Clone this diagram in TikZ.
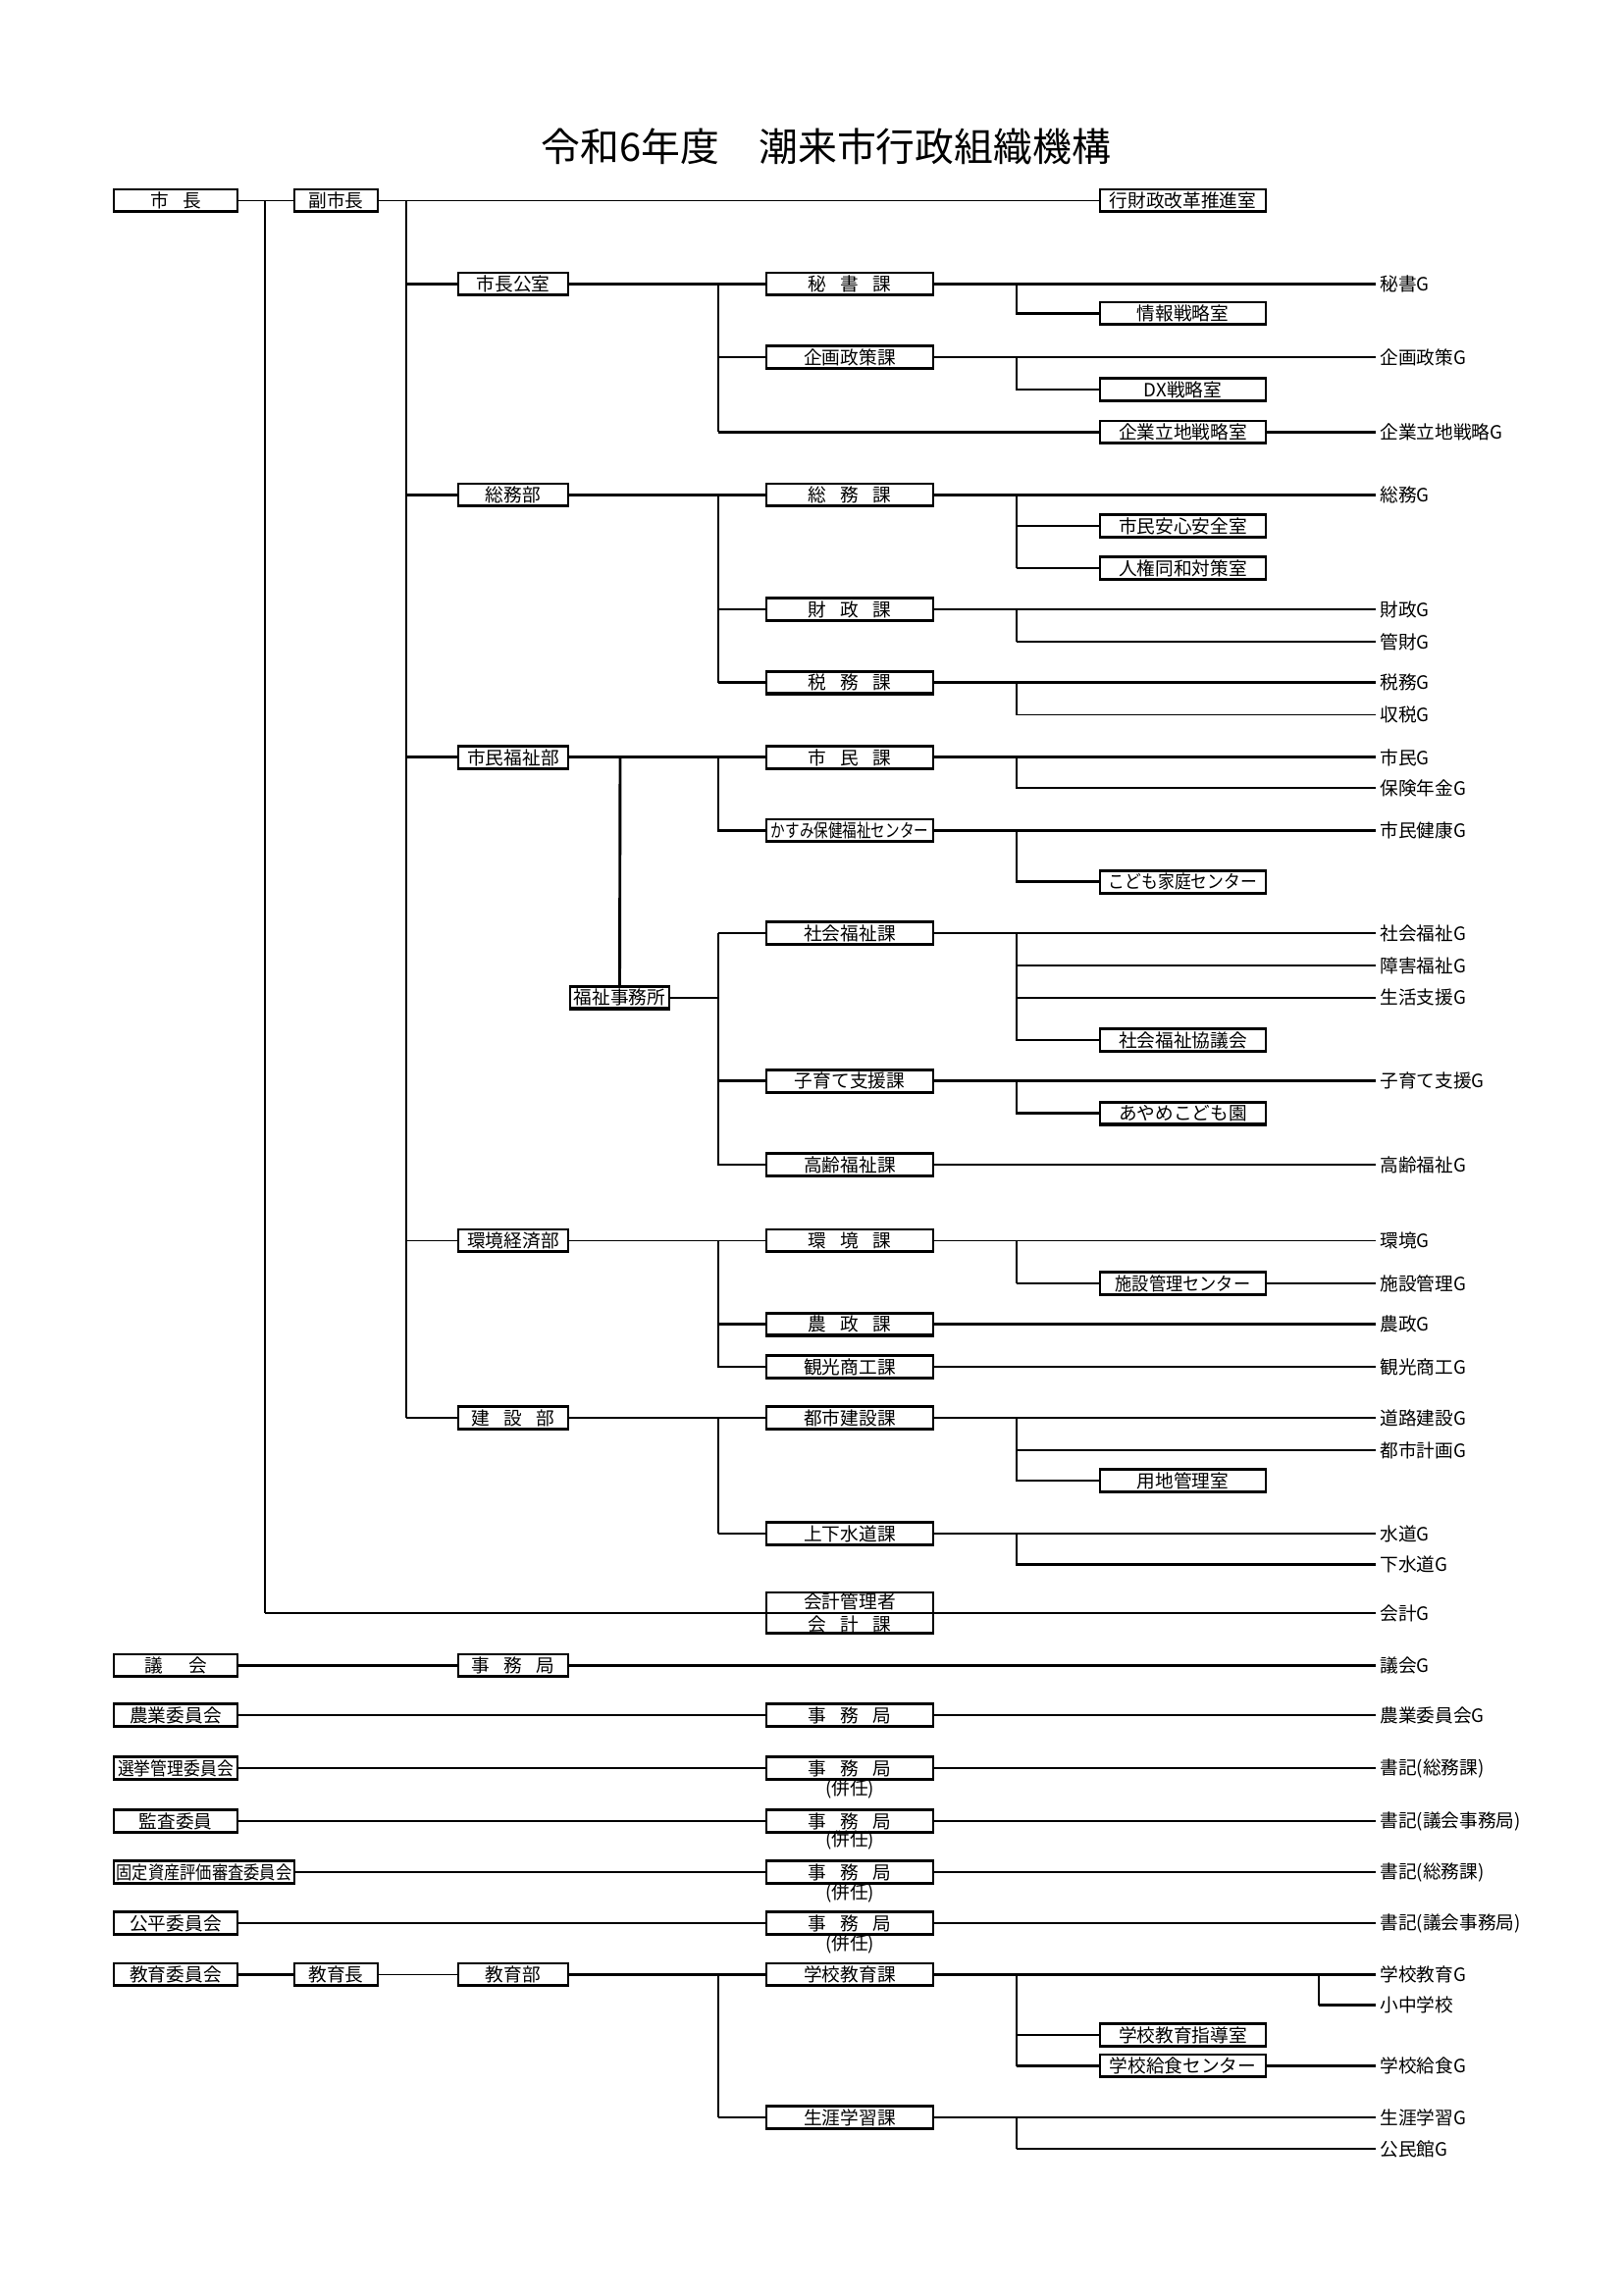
\documentclass[tikz,border=0pt]{standalone}
\usepackage{fontspec}
\setmainfont{Noto Sans CJK JP}
\newcommand\bxf{\fontsize{6.75pt}{7.2pt}\selectfont}
\newcommand\gp{\hspace{0.75em}}
\newcommand\sqz[2]{\scalebox{#1}[1]{#2}}
\begin{document}
\begin{tikzpicture}[x=0.127mm,y=-0.127mm,
  bx/.style={draw, line width=0.95pt, inner sep=0pt, minimum height=2.92mm, font=\bxf, fill=white,
     path picture={\draw[line width=1.3pt] (path picture bounding box.south west) -- (path picture bounding box.south east);}},
  bL/.style={bx, minimum width=16.0mm},
  bS/.style={bx, minimum width=21.59mm},
  bD/.style={bx, minimum width=14.22mm},
  bO/.style={bx, minimum width=21.46mm},
  bV/.style={bx, minimum width=10.8mm},
  glab/.style={anchor=west, inner sep=0.5mm, font=\bxf},
  plain/.style={inner sep=0pt, font=\bxf},
  thk/.style={line width=1.05pt},
  thn/.style={line width=0.6pt},
  med/.style={line width=0.8pt}]
\useasboundingbox (0,0) rectangle (1654,2338);

% title
\node[inner sep=0pt, font=\fontsize{14.4pt}{16pt}\selectfont] (title) at (842,149) {令和6年度　潮来市行政組織機構};

% helper coordinates for vertical trunks
\coordinate (X270) at (270,0);
\coordinate (X414) at (414,0);
\coordinate (X632) at (632,0);
\coordinate (X732) at (732,0);
\coordinate (X1036) at (1036,0);
\coordinate (X1344) at (1344,0);

% left column
\node[bL] (mayor) at (179,204.5) {市\gp 長};
\node[bL] (gikai) at (179,1697.5) {議\hspace{1.4em}会};
\node[bL] (nougyou) at (179,1748) {農業委員会};
\node[bL] (senkyo) at (179,1802) {\sqz{0.9}{選挙管理委員会}};
\node[bL] (kansa) at (179,1856) {監査委員};
\node[bx, minimum width=23.37mm] (kotei) at (208,1908) {\sqz{0.87}{固定資産評価審査委員会}};
\node[bL] (kouhei) at (179,1960) {公平委員会};
\node[bL] (kyoiI) at (179,2012.6) {教育委員会};

% second column
\node[bV] (vmayor) at (342.5,204.5) {副市長};
\node[bV] (kyoikuchou) at (342.5,2012.6) {教育長};

% departments
\node[bD] (koushitsu) at (523,289.6) {市長公室};
\node[bD] (soumubu) at (523,504.6) {総務部};
\node[bD] (shiminbu) at (523,771.9) {市民福祉部};
\node[bD] (kankyobu) at (523,1264.6) {環境経済部};
\node[bD] (kensetsu) at (523,1445) {建\gp 設\gp 部};
\node[bD] (gjimu) at (523,1697.5) {事\gp 務\gp 局};
\node[bD] (kyoikubu) at (523,2012.6) {教育部};
\node[bx, minimum width=12.83mm] (fukushi) at (631.5,1016.7) {福祉事務所};

% sections
\node[bS] (hisho) at (866,289.6) {秘\gp 書\gp 課};
\node[bS] (kikaku) at (866,364.3) {企画政策課};
\node[bS] (soumuka) at (866,504.6) {総\gp 務\gp 課};
\node[bS] (zaisei) at (866,621) {財\gp 政\gp 課};
\node[bS] (zeimu) at (866,695.7) {税\gp 務\gp 課};
\node[bS] (shiminka) at (866,771.9) {市\gp 民\gp 課};
\node[bS] (kasumi) at (866,846.5) {\sqz{0.78}{かすみ保健福祉センター}};
\node[bS] (shakai) at (866,951) {社会福祉課};
\node[bS] (kosodate) at (866,1101.8) {子育て支援課};
\node[bS] (kourei) at (866,1187) {高齢福祉課};
\node[bS] (kankyoka) at (866,1264.6) {環\gp 境\gp 課};
\node[bS] (nousei) at (866,1349.7) {農\gp 政\gp 課};
\node[bS] (kankou) at (866,1393) {観光商工課};
\node[bS] (toshi) at (866,1445) {都市建設課};
\node[bS] (jouge) at (866,1563) {上下水道課};
\node[bS, minimum height=5.33mm, align=center, fill=none] (kaikei) at (866,1644) {会計管理者\\[0.3mm]会\gp 計\gp 課};
\node[bS] (j1) at (866,1748) {事\gp 務\gp 局};
\node[bS] (j2) at (866,1802) {事\gp 務\gp 局};
\node[bS] (j3) at (866,1856) {事\gp 務\gp 局};
\node[bS] (j4) at (866,1908) {事\gp 務\gp 局};
\node[bS] (j5) at (866,1960) {事\gp 務\gp 局};
\node[bS] (gakko) at (866,2012.6) {学校教育課};
\node[bS] (shogai) at (866,2158) {生涯学習課};

\node[plain] (ken2) at (866,1823) {(併任)};
\node[plain] (ken3) at (866,1875) {(併任)};
\node[plain] (ken4) at (866,1929.5) {(併任)};
\node[plain] (ken5) at (866,1981) {(併任)};

% offices
\node[bO] (gyozai) at (1205.5,204.5) {行財政改革推進室};
\node[bO] (jouhou) at (1205.5,319.5) {情報戦略室};
\node[bO] (dx) at (1205.5,397) {DX戦略室};
\node[bO] (kigyo) at (1205.5,440.4) {企業立地戦略室};
\node[bO] (anshin) at (1205.5,536) {市民安心安全室};
\node[bO] (jinken) at (1205.5,579.3) {人権同和対策室};
\node[bO] (kodomo) at (1205.5,898.8) {\sqz{0.9}{こども家庭センター}};
\node[bO] (kyougi) at (1205.5,1060) {社会福祉協議会};
\node[bO] (ayame) at (1205.5,1134.7) {あやめこども園};
\node[bO] (shisetsu) at (1205.5,1308) {\sqz{0.92}{施設管理センター}};
\node[bO] (youchi) at (1205.5,1509) {用地管理室};
\node[bO] (shidou) at (1205.5,2074) {学校教育指導室};
\node[bO] (kyushoku) at (1205.5,2105.5) {学校給食センター};

% group labels
\node[glab] (hishoG) at (1402,289.6) {秘書G};
\node[glab] (kikakuG) at (1402,364.3) {企画政策G};
\node[glab] (kigyoG) at (1402,440.4) {企業立地戦略G};
\node[glab] (soumuG) at (1402,504.6) {総務G};
\node[glab] (zaiseiG) at (1402,621) {財政G};
\node[glab] (kanzaiG) at (1402,654) {管財G};
\node[glab] (zeimuG) at (1402,695.7) {税務G};
\node[glab] (shuzeiG) at (1402,728.6) {収税G};
\node[glab] (shiminG) at (1402,771.9) {市民G};
\node[glab] (hokenG) at (1402,803) {保険年金G};
\node[glab] (kenkouG) at (1402,846.5) {市民健康G};
\node[glab] (shakaiG) at (1402,951) {社会福祉G};
\node[glab] (shougaiG) at (1402,984) {障害福祉G};
\node[glab] (seikatsuG) at (1402,1016.7) {生活支援G};
\node[glab] (kosodateG) at (1402,1101.8) {子育て支援G};
\node[glab] (koureiG) at (1402,1187) {高齢福祉G};
\node[glab] (kankyoG) at (1402,1264.6) {環境G};
\node[glab] (shisetsuG) at (1402,1308) {施設管理G};
\node[glab] (nouseiG) at (1402,1349.7) {農政G};
\node[glab] (kankouG) at (1402,1393) {観光商工G};
\node[glab] (douroG) at (1402,1445) {道路建設G};
\node[glab] (tkeikakuG) at (1402,1478) {都市計画G};
\node[glab] (suidouG) at (1402,1563) {水道G};
\node[glab] (gesuiG) at (1402,1594.5) {下水道G};
\node[glab] (kaikeiG) at (1402,1644) {会計G};
\node[glab] (gikaiG) at (1402,1697.5) {議会G};
\node[glab] (nougyouG) at (1402,1748) {農業委員会G};
\node[glab] (shokiA) at (1402,1802) {書記(総務課)};
\node[glab] (shokiB) at (1402,1856) {書記(議会事務局)};
\node[glab] (shokiC) at (1402,1908) {書記(総務課)};
\node[glab] (shokiD) at (1402,1960) {書記(議会事務局)};
\node[glab] (gakkoG) at (1402,2012.6) {学校教育G};
\node[glab] (shochu) at (1402,2043.5) {小中学校};
\node[glab] (kyushokuG) at (1402,2105.5) {学校給食G};
\node[glab] (shogaiG) at (1402,2158) {生涯学習G};
\node[glab] (kouminG) at (1402,2190) {公民館G};

% ---- connectors ----
% top level
\draw[thn] (mayor.east) -- (vmayor.west);
\draw[med] (X270 |- mayor.east) -- (X270 |- kaikei.center);
\draw[thk] (X270 |- kaikei.center) -- (kaikeiG.west);
\draw[thn] (vmayor.east) -- (gyozai.west);
\draw[med] (X414 |- vmayor.east) -- (X414 |- kensetsu.west);

% 市長公室
\draw[thk] (X414 |- koushitsu.west) -- (koushitsu.west);
\draw[thk] (koushitsu.east) -- (hisho.west);
\draw[thn] (X732 |- hisho.west) -- (X732 |- kigyo.west);
\draw[thn] (X732 |- kikaku.west) -- (kikaku.west);
\draw[thk] (X732 |- kigyo.west) -- (kigyo.west);
\draw[thk] (hisho.east) -- (hishoG.west);
\draw[thk] (X1036 |- hisho.east) -- (X1036 |- jouhou.west) -- (jouhou.west);
\draw[thn] (kikaku.east) -- (kikakuG.west);
\draw[thk] (X1036 |- kikaku.east) -- (X1036 |- dx.west) -- (dx.west);
\draw[thk] (kigyo.east) -- (kigyoG.west);

% 総務部
\draw[thk] (X414 |- soumubu.west) -- (soumubu.west);
\draw[thk] (soumubu.east) -- (soumuka.west);
\draw[thn] (X732 |- soumuka.west) -- (X732 |- zeimu.west);
\draw[thk] (X732 |- zaisei.west) -- (zaisei.west);
\draw[thk] (X732 |- zeimu.west) -- (zeimu.west);
\draw[thk] (soumuka.east) -- (soumuG.west);
\draw[thk] (X1036 |- soumuka.east) -- (X1036 |- jinken.west);
\draw[thk] (X1036 |- anshin.west) -- (anshin.west);
\draw[thn] (X1036 |- jinken.west) -- (jinken.west);
\draw[thk] (zaisei.east) -- (zaiseiG.west);
\draw[thn] (X1036 |- zaisei.east) -- (X1036 |- kanzaiG.west);
\draw[thk] (X1036 |- kanzaiG.west) -- (kanzaiG.west);
\draw[thk] (zeimu.east) -- (zeimuG.west);
\draw[thn] (X1036 |- zeimu.east) -- (X1036 |- shuzeiG.west) -- (shuzeiG.west);

% 市民福祉部
\draw[thk] (X414 |- shiminbu.west) -- (shiminbu.west);
\draw[thk] (shiminbu.east) -- (shiminka.west);
\draw[thk] (X632 |- shiminbu.east) -- (fukushi.north);
\draw[thk] (X732 |- shiminka.west) -- (X732 |- kasumi.west) -- (kasumi.west);
\draw[thn] (fukushi.east) -- (X732 |- fukushi.east);
\draw[thk] (X732 |- shakai.west) -- (X732 |- kourei.west) -- (kourei.west);
\draw[thn] (X732 |- shakai.west) -- (shakai.west);
\draw[thk] (X732 |- kosodate.west) -- (kosodate.west);
\draw[thk] (shiminka.east) -- (shiminG.west);
\draw[thk] (X1036 |- shiminka.east) -- (X1036 |- hokenG.west) -- (hokenG.west);
\draw[thk] (kasumi.east) -- (kenkouG.west);
\draw[thk] (X1036 |- kasumi.east) -- (X1036 |- kodomo.west) -- (kodomo.west);
\draw[thn] (shakai.east) -- (shakaiG.west);
\draw[thk] (X1036 |- shakai.east) -- (X1036 |- kyougi.west) -- (kyougi.west);
\draw[thn] (X1036 |- shougaiG.west) -- (shougaiG.west);
\draw[thn] (X1036 |- seikatsuG.west) -- (seikatsuG.west);
\draw[thk] (kosodate.east) -- (kosodateG.west);
\draw[thk] (X1036 |- kosodate.east) -- (X1036 |- ayame.west) -- (ayame.west);
\draw[thk] (kourei.east) -- (koureiG.west);

% 環境経済部
\draw[thn] (X414 |- kankyobu.west) -- (kankyobu.west);
\draw[thn] (kankyobu.east) -- (kankyoka.west);
\draw[thn] (X732 |- kankyoka.west) -- (X732 |- kankou.west) -- (kankou.west);
\draw[thk] (X732 |- nousei.west) -- (nousei.west);
\draw[thn] (kankyoka.east) -- (kankyoG.west);
\draw[thn] (X1036 |- kankyoka.east) -- (X1036 |- shisetsu.west);
\draw[thk] (X1036 |- shisetsu.west) -- (shisetsu.west);
\draw[thk] (shisetsu.east) -- (shisetsuG.west);
\draw[thk] (nousei.east) -- (nouseiG.west);
\draw[thn] (kankou.east) -- (kankouG.west);

% 建設部
\draw[thk] (X414 |- kensetsu.west) -- (kensetsu.west);
\draw[thk] (kensetsu.east) -- (toshi.west);
\draw[thn] (X732 |- toshi.west) -- (X732 |- jouge.west);
\draw[thk] (X732 |- jouge.west) -- (jouge.west);
\draw[thk] (toshi.east) -- (douroG.west);
\draw[thn] (X1036 |- toshi.east) -- (X1036 |- youchi.west) -- (youchi.west);
\draw[thk] (X1036 |- tkeikakuG.west) -- (tkeikakuG.west);
\draw[thk] (jouge.east) -- (suidouG.west);
\draw[thk] (X1036 |- jouge.east) -- (X1036 |- gesuiG.west) -- (gesuiG.west);

% committees
\draw[thk] (gikai.east) -- (gjimu.west);
\draw[thk] (gjimu.east) -- (gikaiG.west);
\draw[thk] (nougyou.east) -- (j1.west);
\draw[thk] (j1.east) -- (nougyouG.west);
\draw[thn] (senkyo.east) -- (j2.west);
\draw[thn] (j2.east) -- (shokiA.west);
\draw[thk] (kansa.east) -- (j3.west);
\draw[thk] (j3.east) -- (shokiB.west);
\draw[thn] (kotei.east) -- (j4.west);
\draw[thn] (j4.east) -- (shokiC.west);
\draw[thk] (kouhei.east) -- (j5.west);
\draw[thk] (j5.east) -- (shokiD.west);

% education
\draw[thk] (kyoiI.east) -- (kyoikuchou.west);
\draw[thn] (kyoikuchou.east) -- (kyoikubu.west);
\draw[thk] (kyoikubu.east) -- (gakko.west);
\draw[thn] (X732 |- gakko.west) -- (X732 |- shogai.west);
\draw[thk] (X732 |- shogai.west) -- (shogai.west);
\draw[thk] (gakko.east) -- (gakkoG.west);
\draw[thn] (X1036 |- gakko.east) -- (X1036 |- kyushoku.west);
\draw[thk] (X1036 |- shidou.west) -- (shidou.west);
\draw[thk] (X1036 |- kyushoku.west) -- (kyushoku.west);
\draw[thk] (kyushoku.east) -- (kyushokuG.west);
\draw[thn] (X1344 |- gakkoG.west) -- (X1344 |- shochu.west);
\draw[thk] (X1344 |- shochu.west) -- (shochu.west);
\draw[thk] (shogai.east) -- (shogaiG.west);
\draw[thn] (X1036 |- shogai.east) -- (X1036 |- kouminG.west);
\draw[thk] (X1036 |- kouminG.west) -- (kouminG.west);
\end{tikzpicture}
\end{document}
